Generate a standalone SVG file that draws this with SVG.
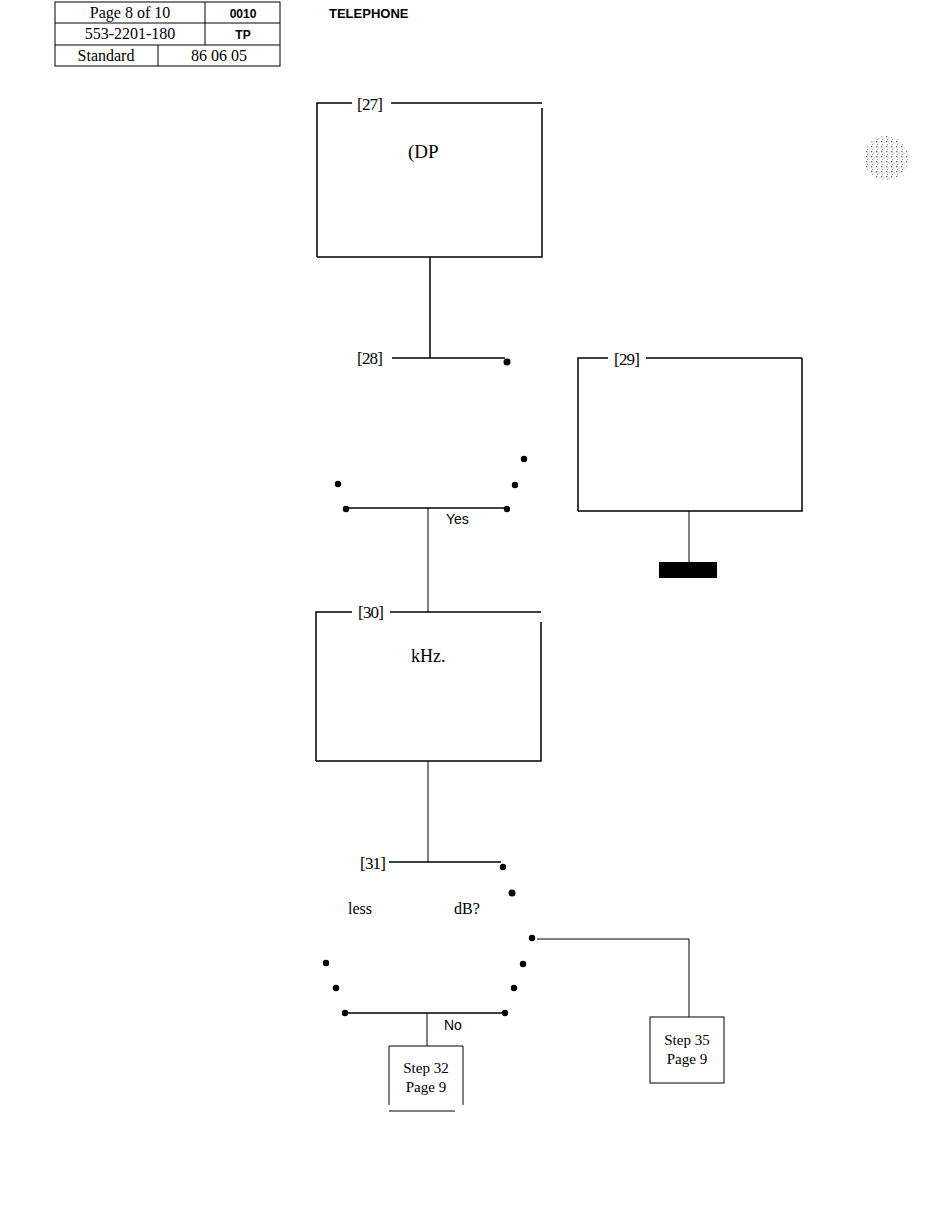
<svg xmlns="http://www.w3.org/2000/svg" width="926" height="1225" viewBox="0 0 926 1225">
<style>
.ln{stroke:#000;stroke-width:1.5;fill:none}
.thin{stroke:#000;stroke-width:1;fill:none}
.serif{font-family:"Liberation Serif","Times New Roman",serif;fill:#000}
.sans{font-family:"Liberation Sans",Arial,sans-serif;fill:#000}
.lbl{font-family:"Liberation Serif","Times New Roman",serif;font-size:17px;fill:#000}
.dot{fill:#000}
</style>
<defs>
<pattern id="spk" width="5" height="5" patternUnits="userSpaceOnUse">
<rect x="1" y="1" width="1.3" height="1.3" fill="#333"/>
<rect x="3.5" y="2.5" width="1" height="1" fill="#888"/>
<rect x="2" y="4" width="0.9" height="0.9" fill="#555"/>
</pattern>
</defs>
<rect width="926" height="1225" fill="#fff"/>

<g id="header">
<rect x="55" y="2" width="225" height="64" class="thin"/>
<line x1="55" y1="23" x2="280" y2="23" class="thin"/>
<line x1="55" y1="45" x2="280" y2="45" class="thin"/>
<line x1="205" y1="2" x2="205" y2="45" class="thin"/>
<line x1="158" y1="45" x2="158" y2="66" class="thin"/>
<text x="130" y="18" text-anchor="middle" class="serif" font-size="16">Page 8 of 10</text>
<text x="243" y="18" text-anchor="middle" class="sans" font-size="12" font-weight="bold">0010</text>
<text x="130" y="39" text-anchor="middle" class="serif" font-size="16">553-2201-180</text>
<text x="243" y="39" text-anchor="middle" class="sans" font-size="12" font-weight="bold">TP</text>
<text x="106" y="61" text-anchor="middle" class="serif" font-size="16">Standard</text>
<text x="219" y="61" text-anchor="middle" class="serif" font-size="16">86 06 05</text>
<text x="329" y="18" class="sans" font-size="13" font-weight="bold">TELEPHONE</text>
</g>

<g id="step27">
<path d="M317 257 V103 H352" class="ln"/>
<line x1="391" y1="103" x2="542" y2="103" class="ln"/>
<path d="M542 108 V257 H317" class="ln"/>
<text x="357" y="110" class="lbl" textLength="26">[27]</text>
<text x="408" y="158" class="serif" font-size="19">(DP</text>
</g>

<g id="step28">
<text x="357" y="364" class="lbl" textLength="26">[28]</text>
<line x1="392" y1="358" x2="505" y2="358" class="ln"/>
<circle cx="507" cy="362" r="3.5" class="dot"/>
<circle cx="524" cy="459" r="3.2" class="dot"/>
<circle cx="338" cy="484" r="3.2" class="dot"/>
<circle cx="515" cy="485" r="3.2" class="dot"/>
<circle cx="346" cy="509" r="3.2" class="dot"/>
<circle cx="507" cy="509" r="3.2" class="dot"/>
<line x1="346" y1="508" x2="507" y2="508" class="ln"/>
<text x="446" y="524" class="sans" font-size="14">Yes</text>
</g>

<g id="step29">
<path d="M578 511 V358 H608" class="ln"/>
<line x1="646" y1="358" x2="802" y2="358" class="ln"/>
<path d="M802 358 V511 H578" class="ln"/>
<text x="614" y="365" class="lbl" textLength="26">[29]</text>
<rect x="659" y="562" width="58" height="16" fill="#000"/>
</g>

<g id="step30">
<path d="M316 761 V612 H352" class="ln"/>
<line x1="390" y1="612" x2="541" y2="612" class="ln"/>
<path d="M541 622 V761 H316" class="ln"/>
<text x="358" y="618" class="lbl" textLength="26">[30]</text>
<text x="411" y="662" class="serif" font-size="18">kHz.</text>
</g>

<g id="step31">
<text x="360" y="869" class="lbl" textLength="26">[31]</text>
<line x1="389" y1="862" x2="501" y2="862" class="ln"/>
<circle cx="503" cy="867" r="3.2" class="dot"/>
<circle cx="512" cy="893" r="3.5" class="dot"/>
<text x="348" y="914" class="serif" font-size="16">less</text>
<text x="454" y="914" class="serif" font-size="16">dB?</text>
<circle cx="532" cy="938" r="3.2" class="dot"/>
<circle cx="326" cy="963" r="3.2" class="dot"/>
<circle cx="523" cy="964" r="3.2" class="dot"/>
<circle cx="336" cy="988" r="3.2" class="dot"/>
<circle cx="514" cy="988" r="3.2" class="dot"/>
<circle cx="345" cy="1013" r="3.2" class="dot"/>
<circle cx="505" cy="1013" r="3.2" class="dot"/>
<line x1="345" y1="1013" x2="505" y2="1013" class="ln"/>
<text x="444" y="1030" class="sans" font-size="14">No</text>
</g>

<g id="step32">
<path d="M389 1105 V1046 H463 V1105" class="thin"/>
<line x1="389" y1="1111" x2="455" y2="1111" class="thin"/>
<text x="426" y="1073" text-anchor="middle" class="serif" font-size="15">Step 32</text>
<text x="426" y="1092" text-anchor="middle" class="serif" font-size="15">Page 9</text>
</g>

<g id="step35">
<rect x="650" y="1017" width="74" height="66" class="thin"/>
<text x="687" y="1045" text-anchor="middle" class="serif" font-size="15">Step 35</text>
<text x="687" y="1064" text-anchor="middle" class="serif" font-size="15">Page 9</text>
</g>

<g id="connectors">
<line x1="430" y1="257" x2="430" y2="358" class="ln"/>
<line x1="428" y1="508" x2="428" y2="612" class="thin"/>
<line x1="689" y1="511" x2="689" y2="562" class="thin"/>
<line x1="428" y1="761" x2="428" y2="862" class="thin"/>
<path d="M537 939 H689 V1017" class="thin"/>
<line x1="427" y1="1013" x2="427" y2="1046" class="thin"/>
</g>

<g id="scan-marks">
<circle cx="886" cy="158" r="22" fill="url(#spk)" opacity="0.8"/>
</g>
</svg>
